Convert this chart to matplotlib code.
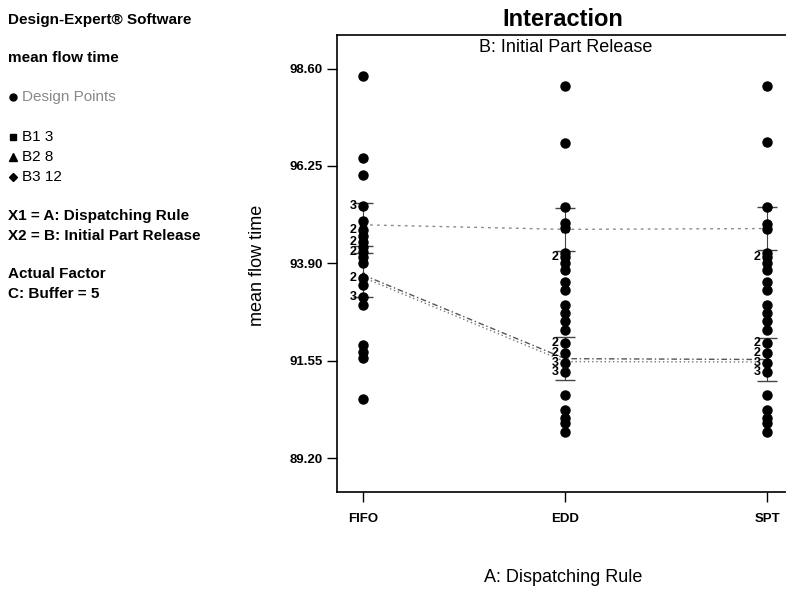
import numpy as np
import matplotlib
matplotlib.use("Agg")
import matplotlib.pyplot as plt

plt.rcParams['font.family'] = ['Liberation Sans', 'DejaVu Sans']

### data ###
rules = ["FIFO", "EDD", "SPT"]
y_ticks = [89.20, 91.55, 93.90, 96.25, 98.60]

# design points (mean flow time) per dispatching rule
fifo_pts = [98.41, 96.44, 96.02, 95.29, 94.91, 94.71, 94.57, 94.42, 94.30, 94.18,
            94.05, 93.91, 93.55, 93.38, 93.09, 92.90, 91.94, 91.77, 91.62, 90.63]
edd_pts = [98.17, 96.80, 95.27, 94.88, 94.76, 94.15, 94.05, 93.91, 93.74, 93.46,
           93.26, 92.90, 92.71, 92.50, 92.30, 91.98, 91.74, 91.50, 91.29, 90.72,
           90.36, 90.17, 90.05, 89.84]
spt_pts = [98.18, 96.82, 95.27, 94.86, 94.74, 94.15, 94.05, 93.91, 93.74, 93.46,
           93.26, 92.90, 92.71, 92.50, 92.30, 91.98, 91.74, 91.50, 91.29, 90.72,
           90.36, 90.17, 90.05, 89.84]

# repeated points: (rule index, value, count)
repeats = [(0, 95.29, "3"), (0, 94.71, "2"), (0, 94.42, "2"), (0, 94.18, "2"),
           (0, 93.55, "2"), (0, 93.09, "3"),
           (1, 94.05, "2"), (1, 91.98, "2"), (1, 91.74, "2"), (1, 91.50, "3"), (1, 91.29, "3"),
           (2, 94.05, "2"), (2, 91.98, "2"), (2, 91.74, "2"), (2, 91.50, "3"), (2, 91.29, "3")]

# interaction means for B: Initial Part Release
b1_mean = [94.83, 94.72, 94.74]
b2_mean = [93.62, 91.60, 91.58]
b3_mean = [93.56, 91.53, 91.52]
lsd_half = 0.52

### plotting ###
fig = plt.figure(figsize=(7.86, 5.91), dpi=100)
ax = fig.add_axes([0.4288, 0.168, 0.579, 0.7728])

xs = np.arange(len(rules))

# lines
ax.plot(xs, b1_mean, color='#8a8a8a', lw=1, ls=(0, (2, 3)), marker='s', ms=4,
        mfc='black', mec='black', zorder=2)
ax.plot(xs, b2_mean, color='#555555', lw=1, ls=(0, (4, 2, 1, 2)), marker='^', ms=4,
        mfc='black', mec='black', zorder=2)
ax.plot(xs, b3_mean, color='#777777', lw=1, ls=(0, (1, 2)), marker='D', ms=3,
        mfc='black', mec='black', zorder=2)

# LSD bars
for means in [b1_mean, b2_mean]:
    ax.errorbar(xs, means, yerr=lsd_half, fmt='none', ecolor='#444444',
                elinewidth=0.8, capsize=7, capthick=1, zorder=2)

# design points
for i, pts in enumerate([fifo_pts, edd_pts, spt_pts]):
    ax.plot([i] * len(pts), pts, 'o', color='black', ms=6.5, zorder=3)

for i, v, c in repeats:
    ax.annotate(c, (i, v), xytext=(-7, 0), textcoords='offset points',
                ha='center', va='center', fontsize=9, fontweight='bold', zorder=4)

ax.set_xlim(-0.129, 2.124)
ax.set_ylim(88.39, 99.41)
ax.set_xticks(xs)
ax.set_xticklabels(rules, fontsize=9.5, fontweight='bold')
ax.set_yticks(y_ticks)
ax.set_yticklabels(["%.2f" % t for t in y_ticks], fontsize=9.5, fontweight='bold')
ax.tick_params(direction='out', length=7, width=1)
ax.tick_params(axis='x', pad=8)
for s in ['left', 'bottom', 'top']:
    ax.spines[s].set_linewidth(1.2)
ax.spines['right'].set_visible(False)

# titles
fig.text(563 / 786, 1 - 19 / 591, "Interaction", ha='center', va='center',
         fontsize=17, fontweight='bold')
fig.text(566 / 786, 1 - 47 / 591, "B: Initial Part Release", ha='center', va='center', fontsize=13)
fig.text(563 / 786, 1 - 577 / 591, "A: Dispatching Rule", ha='center', va='center', fontsize=13)
fig.text(257 / 786, 1 - 265 / 591, "mean flow time", ha='center', va='center',
         rotation=90, fontsize=13)

# side info
def side(y, s, x=8, **kw):
    fig.text(x / 786, 1 - y / 591, s, ha='left', va='center', fontsize=11, **kw)

side(20, "Design-Expert\u00ae Software", fontweight='bold')
side(58, "mean flow time", fontweight='bold')
side(97, "Design Points", x=22, color='#888888')
side(137, "B1 3", x=22)
side(157, "B2 8", x=22)
side(177, "B3 12", x=22)
side(216, "X1 = A: Dispatching Rule", fontweight='bold')
side(236, "X2 = B: Initial Part Release", fontweight='bold')
side(274, "Actual Factor", fontweight='bold')
side(294, "C: Buffer = 5", fontweight='bold')

for y, m, ms in [(97, 'o', 5), (137, 's', 5), (157, '^', 6), (177, 'D', 4.5)]:
    fig.lines.append(plt.Line2D([13 / 786], [1 - y / 591], marker=m, ms=ms, color='black',
                                transform=fig.transFigure, ls='none'))

fig.savefig("out.png", dpi=100)
